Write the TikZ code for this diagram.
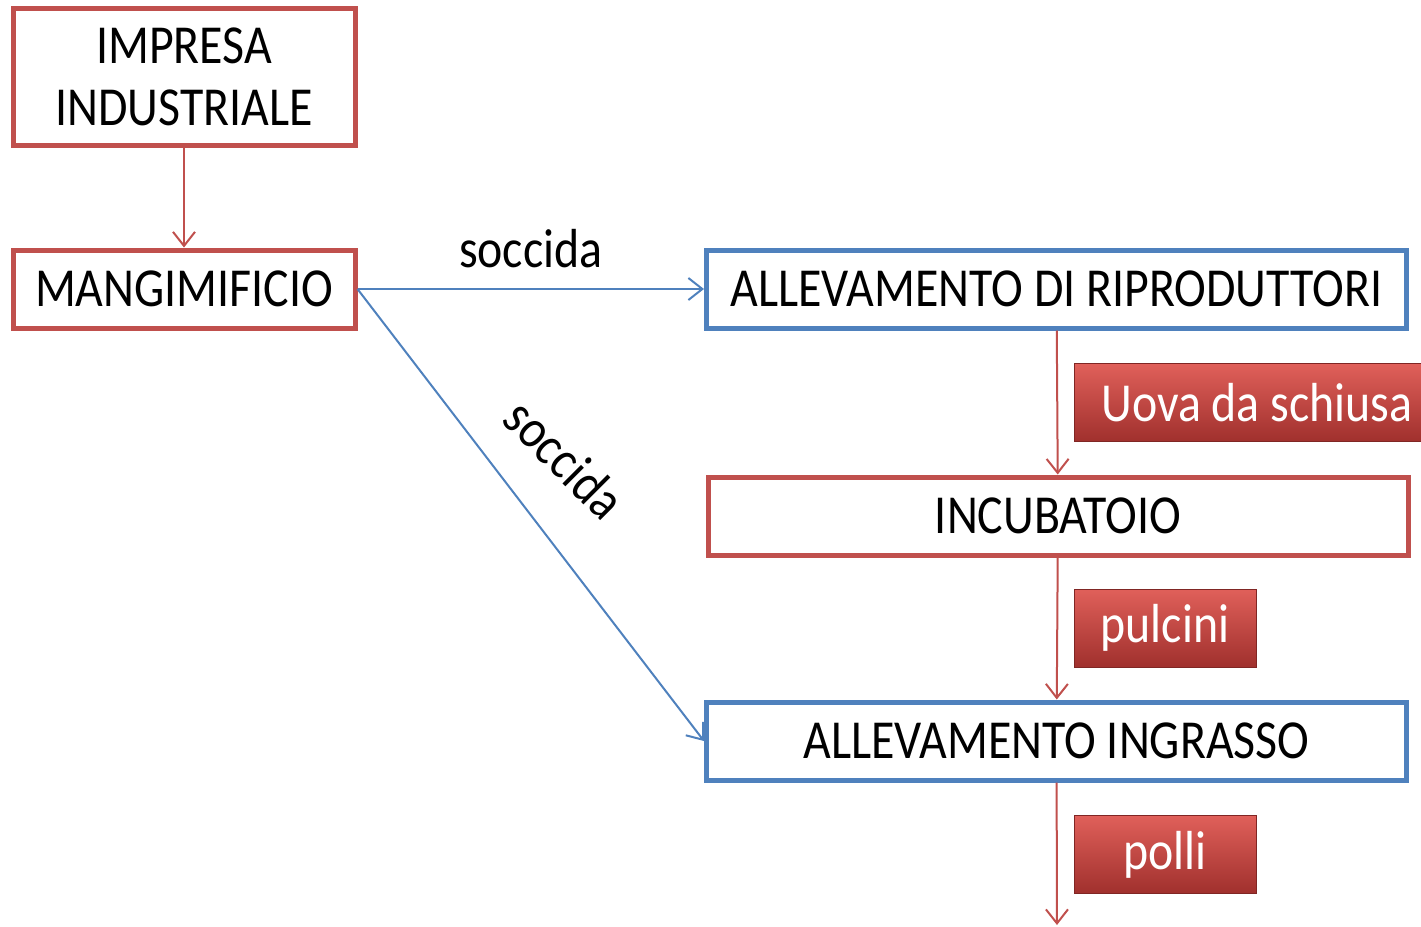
\documentclass[tikz,border=0pt]{standalone}
\usepackage{fontspec}
\newfontfamily\boxfont[FakeStretch=0.87]{Carlito}
\usetikzlibrary{arrows.meta}
\definecolor{boxred}{HTML}{C0504D}
\definecolor{boxblue}{HTML}{4F81BD}
\definecolor{labtop}{HTML}{E0605A}
\definecolor{labmid}{HTML}{CC423E}
\definecolor{labbot}{HTML}{A0302D}
\begin{document}
\begin{tikzpicture}[
    x=0.5pt, y=-0.5pt,
    every node/.style={font=\boxfont\fontsize{27.5}{31}\selectfont, align=center, inner sep=0pt},
    redbox/.style={draw=boxred, line width=2.5pt, rectangle, minimum width=171pt, minimum height=39pt},
    bluebox/.style={redbox, draw=boxblue, minimum width=350pt},
    prodlabel/.style={rectangle, top color=labtop, middle color=labmid, bottom color=labbot, draw=labbot!80!black, line width=0.4pt, text=white, minimum width=91pt, minimum height=39pt},
    redarrow/.style={draw=boxred, line width=1pt, -{Straight Barb[length=7pt, width=11pt]}},
    bluearrow/.style={redarrow, draw=boxblue},
    rel/.style={text=black}
]
\clip (0,0) rectangle (1421,927);
% Entità
\node[redbox, minimum height=68.5pt] (impresa) at (184,76.5) {IMPRESA\\INDUSTRIALE};
\node[redbox] (mangim) at (184,289) {MANGIMIFICIO};
\node[bluebox] (riprod) at (1056.5,289) {ALLEVAMENTO DI RIPRODUTTORI};
\node[redbox, minimum width=350pt] (incub) at (1058,516) {INCUBATOIO};
\node[bluebox] (ingrasso) at (1056.5,741) {ALLEVAMENTO INGRASSO};
\coordinate (uscita) at (1057,925);

% Prodotti
\node[prodlabel, minimum width=183pt] (uova) at (1257,402.5) {Uova da schiusa};
\node[prodlabel] (pulcini) at (1165,628) {pulcini};
\node[prodlabel] (polli) at (1165,854.5) {polli};

% Flussi
\draw[redarrow] (impresa) -- (mangim);
\draw[bluearrow] (mangim.east) -- (riprod.west) node[rel, midway, above, yshift=10pt] {soccida};
\draw[bluearrow] (mangim.east) -- (ingrasso.west) node[rel, pos=0.46, xshift=24pt, yshift=19pt, rotate=-45] {soccida};
\draw[redarrow] (riprod) -- (incub);
\draw[redarrow] (incub) -- (ingrasso);
\draw[redarrow] (ingrasso) -- (uscita);

\end{tikzpicture}
\end{document}
